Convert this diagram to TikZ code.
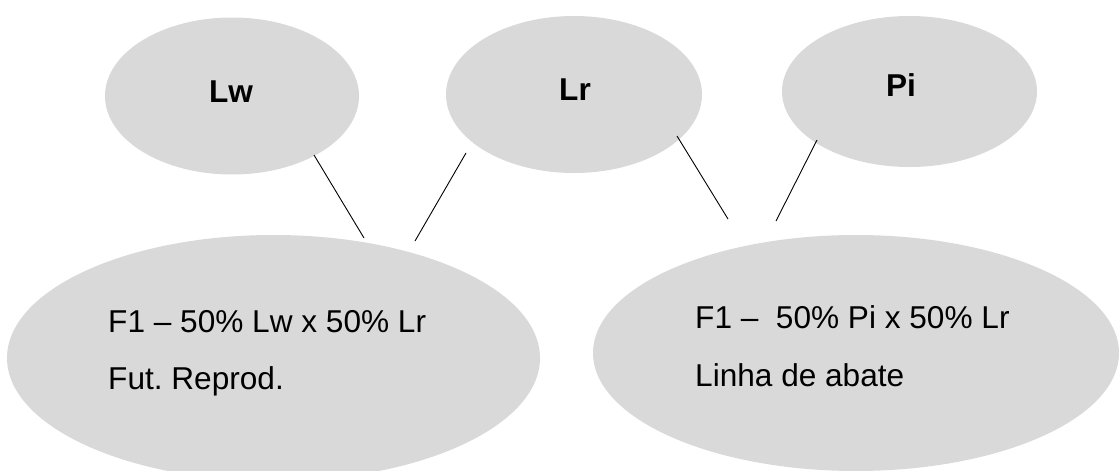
\documentclass[tikz,border=0pt]{standalone}
\usepackage{fontspec}
\setmainfont{Liberation Sans}
\usetikzlibrary{shapes.geometric}
\definecolor{ovalfill}{HTML}{D9D9D9}
\frenchspacing
\tikzset{
  oval/.style={ellipse, fill=ovalfill, draw=none, inner sep=0pt},
  lbl/.style={inner sep=0pt, font=\fontsize{31.6}{38}\selectfont},
  blbl/.style={inner sep=0pt, anchor=base, font=\fontsize{31.6}{38}\selectfont\bfseries},
  link/.style={draw=black, line width=0.9pt}
}
\begin{document}
\begin{tikzpicture}[x=1pt,y=-1pt]
\useasboundingbox (0,0) rectangle (1119,471);
\begin{scope}
\clip (0,0) rectangle (1119,471);
% top ellipses
\node[oval, minimum width=254pt, minimum height=157pt] (Lw) at (232,96) {};
\node[oval, minimum width=256pt, minimum height=157pt] (Lr) at (574,94.5) {};
\node[oval, minimum width=255pt, minimum height=151pt] (Pi) at (909.5,91.5) {};
% bottom ellipses
\node[oval, minimum width=533pt, minimum height=246pt] (F1a) at (273.5,358) {};
\node[oval, minimum width=526pt, minimum height=236pt] (F1b) at (856,353) {};
\end{scope}
% labels
\node[blbl] (tLw) at (231,102) {Lw};
\node[blbl] (tLr) at (575,100) {Lr};
\node[blbl] (tPi) at (901,96) {Pi};
\node[lbl, anchor=base west] (a1) at (108,332.7) {F1 – 50\% Lw x 50\% Lr};
\node[lbl, anchor=base west] (a2) at (108,389.3) {Fut. Reprod.};
\node[lbl, anchor=base west] (b1) at (695,328) {F1 –\ \ 50\% Pi x 50\% Lr};
\node[lbl, anchor=base west] (b2) at (695,386) {Linha de abate};
% connector end points
\coordinate (s1) at (314,155);
\coordinate (e1) at (364,238);
\coordinate (s2) at (466,153);
\coordinate (e2) at (415,241);
\coordinate (s3) at (677,136);
\coordinate (e3) at (728,219);
\coordinate (s4) at (817,140);
\coordinate (e4) at (776,221);
\draw[link] (s1) -- (e1);
\draw[link] (s2) -- (e2);
\draw[link] (s3) -- (e3);
\draw[link] (s4) -- (e4);
\end{tikzpicture}
\end{document}
